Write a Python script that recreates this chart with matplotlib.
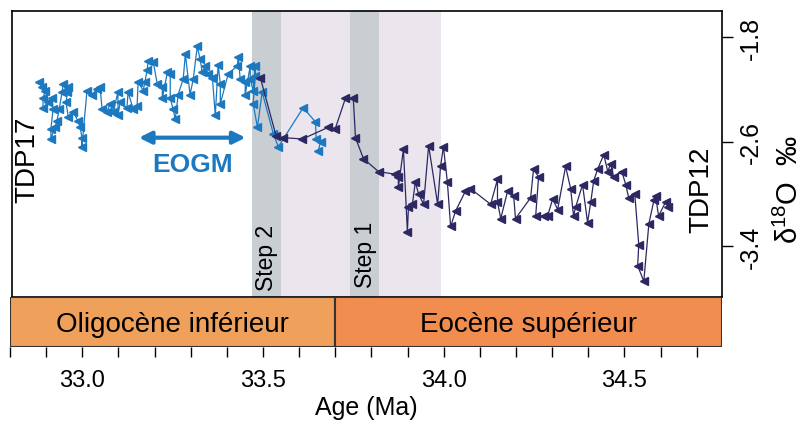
import numpy as np
import matplotlib
matplotlib.use("Agg")
import matplotlib.pyplot as plt
from matplotlib.patches import Rectangle

plt.rcParams['font.family'] = ['Liberation Sans', 'DejaVu Sans']
plt.rcParams['axes.unicode_minus'] = False

# TDP17 (blue) - age (Ma) and d18O (permil)
tdp17_age = [32.875, 32.883, 32.892, 32.886, 32.886, 32.900, 32.911, 32.914, 32.908, 32.908,
             32.919, 32.925, 32.931, 32.939, 32.942, 32.953, 32.956, 32.950, 32.956, 32.969,
             32.983, 32.989, 32.994, 32.994, 33.008, 33.022, 33.036, 33.044, 33.050, 33.064,
             33.072, 33.081, 33.094, 33.094, 33.100, 33.119, 33.122, 33.136, 33.147, 33.150,
             33.164, 33.169, 33.175, 33.178, 33.192, 33.203, 33.217, 33.217, 33.231, 33.239,
             33.239, 33.247, 33.253, 33.261, 33.275, 33.281, 33.294, 33.303, 33.314, 33.322,
             33.328, 33.336, 33.344, 33.356, 33.364, 33.372, 33.378, 33.378, 33.400, 33.425,
             33.428, 33.433, 33.447, 33.447, 33.461, 33.461, 33.469, 33.475, 33.475, 33.469,
             33.481, 33.494, 33.525, 33.539, 33.608, 33.642, 33.644, 33.656, 33.650]
tdp17_d18o = [-2.14, -2.18, -2.21, -2.27, -2.34, -2.30, -2.27, -2.35, -2.50, -2.58,
              -2.49, -2.44, -2.35, -2.22, -2.16, -2.22, -2.18, -2.30, -2.41, -2.37,
              -2.44, -2.49, -2.57, -2.64, -2.21, -2.24, -2.20, -2.18, -2.35, -2.37,
              -2.31, -2.37, -2.22, -2.40, -2.30, -2.34, -2.22, -2.35, -2.33, -2.14,
              -2.21, -2.14, -2.05, -1.98, -1.99, -2.16, -2.18, -2.27, -2.07, -2.08,
              -2.27, -2.35, -2.43, -2.24, -2.12, -1.93, -2.24, -2.12, -1.87, -1.97,
              -2.07, -2.02, -2.08, -2.11, -2.40, -2.01, -2.16, -2.31, -2.08, -2.02,
              -1.95, -2.12, -2.14, -2.24, -2.02, -2.12, -2.21, -2.02, -2.10, -2.31,
              -2.49, -2.22, -2.54, -2.64, -2.34, -2.45, -2.58, -2.60, -2.67]

# TDP12 (navy)
tdp12_age = [33.489, 33.533, 33.553, 33.606, 33.678, 33.697, 33.725, 33.747, 33.753, 33.775,
             33.817, 33.864, 33.872, 33.872, 33.886, 33.897, 33.900, 33.911, 33.919, 33.928,
             33.942, 33.956, 33.981, 33.989, 33.997, 34.008, 34.017, 34.031, 34.058, 34.072,
             34.128, 34.147, 34.147, 34.156, 34.175, 34.192, 34.197, 34.239, 34.247, 34.261,
             34.253, 34.275, 34.286, 34.300, 34.314, 34.336, 34.350, 34.358, 34.364, 34.383,
             34.397, 34.406, 34.414, 34.425, 34.442, 34.453, 34.461, 34.469, 34.492, 34.503,
             34.511, 34.528, 34.539, 34.536, 34.553, 34.567, 34.581, 34.586, 34.594, 34.614,
             34.619]
tdp12_d18o = [-2.11, -2.56, -2.57, -2.58, -2.49, -2.50, -2.27, -2.27, -2.57, -2.73,
              -2.83, -2.85, -2.87, -2.95, -2.66, -3.29, -3.10, -3.08, -2.91, -3.00,
              -3.08, -2.63, -3.08, -2.79, -2.64, -2.91, -3.25, -3.13, -2.98, -2.96,
              -3.08, -2.89, -3.06, -3.19, -2.98, -3.02, -3.19, -3.03, -2.81, -2.87,
              -3.17, -3.17, -3.17, -3.04, -3.12, -2.79, -2.96, -3.17, -3.10, -2.93,
              -3.22, -3.06, -2.90, -2.81, -2.70, -2.83, -2.77, -2.87, -2.83, -2.93,
              -3.03, -3.00, -3.39, -3.55, -3.67, -3.23, -3.05, -3.02, -3.17, -3.06,
              -3.10]

# shaded intervals (Ma)
step2 = (33.467, 33.547)
step1 = (33.739, 33.819)
transition = (33.467, 33.99)
epochs = ['Oligocène inférieur', 'Eocène supérieur']
epoch_bounds = [(32.8, 33.7), (33.7, 34.77)]
epoch_colors = ['#EFA05A', '#F28D50']

blue = '#1c79c0'
navy = '#2c2862'

fig = plt.figure(figsize=(8.06, 4.27), dpi=100)
ax = fig.add_axes([0.0149, 0.3021, 0.8809, 0.6698])
bar = fig.add_axes([0.0124, 0.185, 0.8834, 0.117], sharex=ax)

ax.axvspan(*transition, color='#ebe5ee', lw=0, zorder=0)
ax.axvspan(*step2, color='#c8ced2', lw=0, zorder=1)
ax.axvspan(*step1, color='#c8ced2', lw=0, zorder=1)

ax.plot(tdp17_age, tdp17_d18o, color=blue, lw=0.9, marker='<', ms=5.5, zorder=3)
ax.plot(tdp12_age, tdp12_d18o, color=navy, lw=0.9, marker='<', ms=5.5, zorder=4)

ax.set_xlim(32.8, 34.77)
ax.set_ylim(-3.79, -1.60)
ax.set_yticks([-1.8, -2.6, -3.4])
ax.yaxis.tick_right()
ax.tick_params(axis='y', length=8, width=1, labelsize=18, pad=4)
for lab in ax.get_yticklabels():
    lab.set_rotation(90)
    lab.set_va('center')
ax.tick_params(axis='x', bottom=False, labelbottom=False)
ax.yaxis.set_label_position('right')
ax.set_ylabel('δ$^{\\mathregular{18}}$O  ‰', fontsize=21)
ax.yaxis.label.set_ha('center')
ax.yaxis.label.set_va('center')
ax.yaxis.set_label_coords(1.095, 0.38)
for s in ax.spines.values():
    s.set_linewidth(1.2)

ax.text(32.842, -2.73, 'TDP17', rotation=90, fontsize=20, ha='center', va='center')
ax.text(34.713, -2.96, 'TDP12', rotation=90, fontsize=20, ha='center', va='center')
ax.text(33.506, -3.48, 'Step 2', rotation=90, fontsize=16.5, ha='center', va='center')
ax.text(33.781, -3.46, 'Step 1', rotation=90, fontsize=16.5, ha='center', va='center')
ax.annotate('', xy=(33.152, -2.57), xytext=(33.448, -2.57),
            arrowprops=dict(arrowstyle='<|-|>', color=blue, lw=3,
                            mutation_scale=18, shrinkA=0, shrinkB=0))
ax.text(33.30, -2.77, 'EOGM', color=blue, fontsize=19, fontweight='bold',
        ha='center', va='center')

for (x0, x1), name, c in zip(epoch_bounds, epochs, epoch_colors):
    bar.add_patch(Rectangle((x0, 0), x1 - x0, 1, facecolor=c, edgecolor='#333333', lw=1.5))
    bar.text((x0 + x1) / 2, 0.47, name, fontsize=20, ha='center', va='center')
bar.set_ylim(0, 1)
bar.set_yticks([])
for s in bar.spines.values():
    s.set_visible(False)
bar.set_xticks([33.0, 33.5, 34.0, 34.5])
bar.set_xticklabels(['33.0', '33.5', '34.0', '34.5'])
bar.set_xticks(np.arange(32.8, 34.75, 0.1), minor=True)
bar.tick_params(axis='x', which='both', length=7, width=1, labelsize=17, pad=9)
bar.set_xlabel('Age (Ma)', fontsize=18, labelpad=3)
bar.set_xlim(32.8, 34.77)

fig.savefig('out.png', dpi=100)
